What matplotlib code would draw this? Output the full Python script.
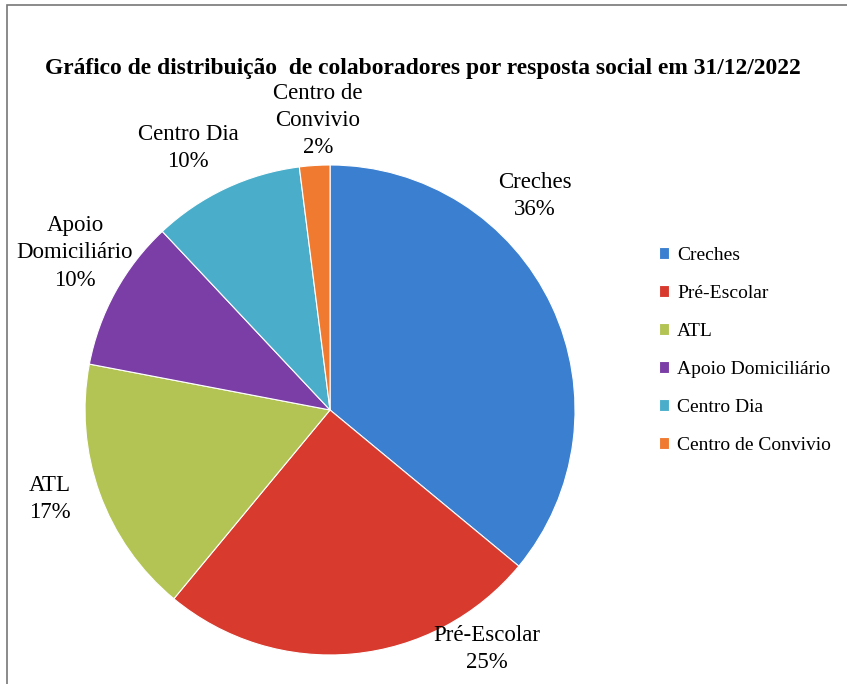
import matplotlib.pyplot as plt
from matplotlib.patches import Rectangle

# dados
categorias = ['Creches', 'Pré-Escolar', 'ATL', 'Apoio Domiciliário', 'Centro Dia', 'Centro de Convivio']
percentagens = [36, 25, 17, 10, 10, 2]
rotulos = ['Creches\n36%', 'Pré-Escolar\n25%', 'ATL\n17%', 'Apoio\nDomiciliário\n10%',
           'Centro Dia\n10%', 'Centro de\nConvivio\n2%']
cores = ['#3b7fd0', '#d83a2e', '#b3c455', '#7a3ea6', '#4aaecb', '#f07a30']

# posicoes dos rotulos (coordenadas do eixo, raio = 1)
pos_rotulos = [(0.837, 0.874), (0.641, -0.975), (-1.143, -0.365), (-1.041, 0.641),
               (-0.58, 1.068), (-0.049, 1.18)]

plt.rcParams['font.family'] = ['Liberation Serif', 'DejaVu Serif']

fig = plt.figure(figsize=(8.47, 6.84), dpi=100)
fig.patch.set_facecolor('white')

# moldura
fig.patches.append(Rectangle((0.008, -0.01), 1.0, 1.003, transform=fig.transFigure,
                             fill=False, edgecolor='#777777', linewidth=1.2))

ax = fig.add_axes([0.1004, 0.0424, 0.5785, 0.7164])
wedges, _ = ax.pie(percentagens, colors=cores, startangle=90, counterclock=False,
                   radius=1, wedgeprops=dict(edgecolor='white', linewidth=0.8))
ax.set_xlim(-1, 1)
ax.set_ylim(-1, 1)
ax.set_aspect('equal')

for txt, (x, y) in zip(rotulos, pos_rotulos):
    ax.text(x, y, txt, ha='center', va='center', fontsize=16.5, linespacing=1.38,
            clip_on=False)

fig.text(0.499, 0.9, 'Gráfico de distribuição  de colaboradores por resposta social em 31/12/2022',
         ha='center', va='center', fontsize=16.9, fontweight='bold')

fig.legend(wedges, categorias, loc='upper left', bbox_to_anchor=(0.757, 0.665),
           frameon=False, fontsize=14, handlelength=0.55, handleheight=0.55,
           handletextpad=0.4, labelspacing=1.08)

plt.savefig('out.png', dpi=100)
